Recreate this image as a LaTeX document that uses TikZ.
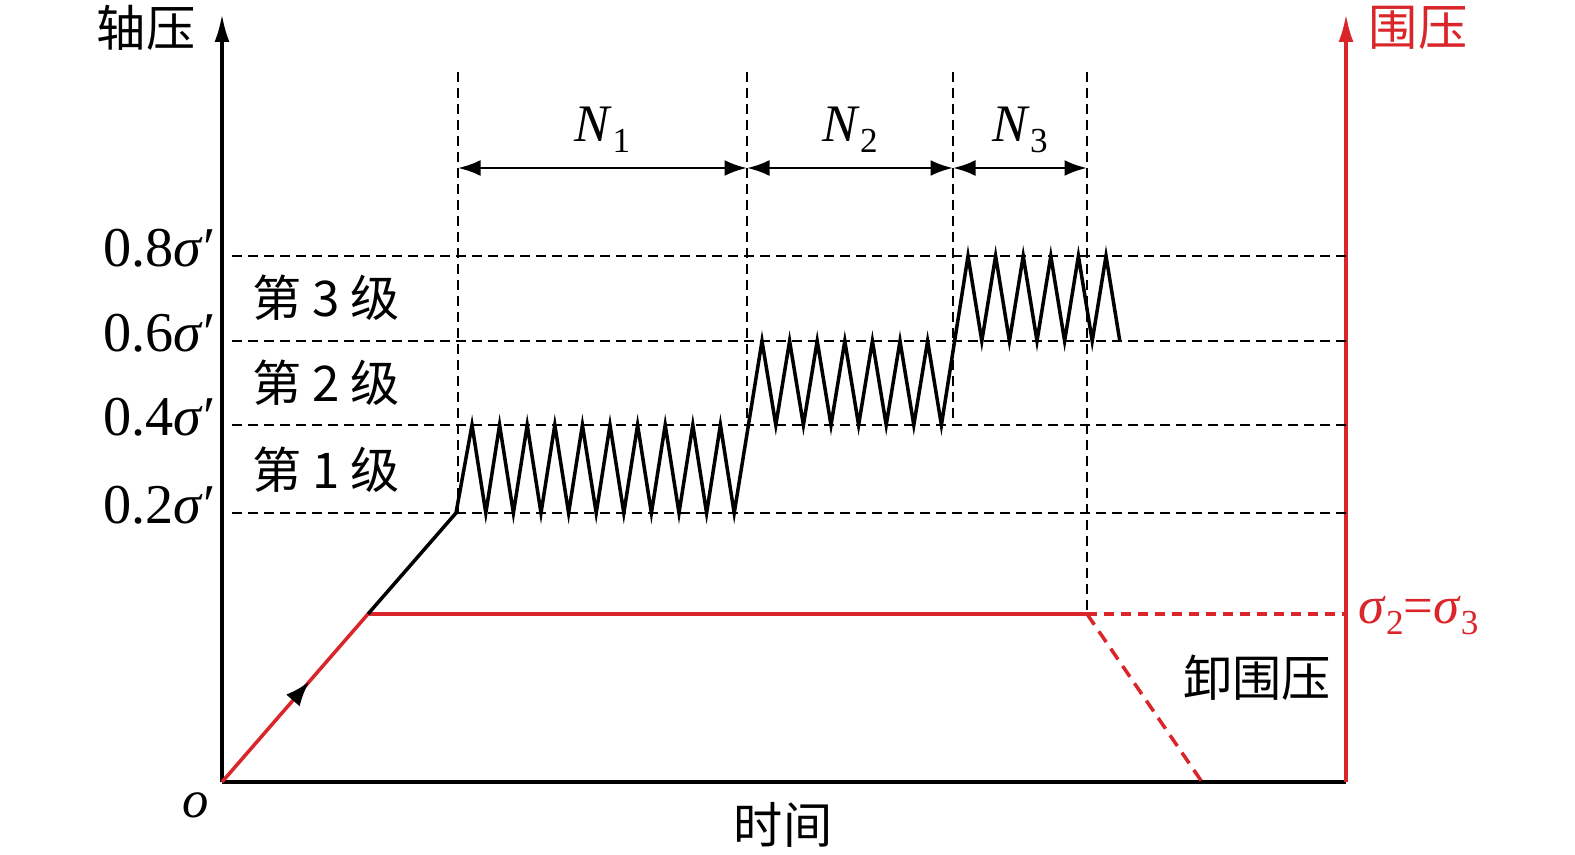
\documentclass[tikz,border=0pt]{standalone}
\usepackage{fontspec}
\setmainfont{Liberation Serif}
\newfontfamily\cjk{Noto Sans CJK SC}
\usetikzlibrary{arrows.meta, decorations.markings}
\definecolor{redline}{RGB}{218,37,42}
\newcommand{\lowidx}[1]{\raisebox{-0.45ex}{\fontsize{20}{20}\selectfont #1}}

\begin{document}
\begin{tikzpicture}[
    x=0.02cm, y=-0.02cm,
    every node/.style={font=\fontsize{30}{34}\selectfont, inner sep=0pt},
    lab/.style={font=\cjk\fontsize{28}{32}\selectfont},
    axis/.style={line width=2pt, -{Latex[length=5.6mm, width=3mm]}},
    guide/.style={dash pattern=on 2mm off 1.2mm, line width=0.9pt},
    load/.style={line width=2pt, line join=miter},
    dim/.style={{Latex[length=4.5mm, width=3.2mm]}-{Latex[length=4.5mm, width=3.2mm]}, line width=1.6pt},
    conf/.style={redline, line width=2pt}
]
    \useasboundingbox (0,0) rectangle (1575,855);

    % Axes
    \coordinate (O) at (222,782);
    \coordinate (ytop) at (222,14);
    \coordinate (xend) at (1346,782);
    \coordinate (rtop) at (1346,14);
    \draw[axis] (O) -- (ytop);
    \draw[line width=2pt] (O) -- (xend);
    \draw[axis, redline] (xend) -- (rtop);

    \node[lab] (axial) at (146,28) {轴压};
    \node[lab, text=redline] (conf) at (1418,28) {围压};
    \node[font=\fontsize{30}{34}\selectfont\itshape] (orig) at (196,805) {o};
    \node[lab] (time) at (783,825) {时间};

    % Stress levels
    \foreach \y/\v in {256/0.8, 341/0.6, 425/0.4, 513/0.2} {
        \draw[guide] (232,\y) -- (1346,\y);
        \node[anchor=east, font=\fontsize{32}{36}\selectfont] at (216,\y-8) {\v\textit{σ}′};
    }
    \node[lab] (lv3) at (326,298) {第 3 级};
    \node[lab] (lv2) at (326,383) {第 2 级};
    \node[lab] (lv1) at (326,470) {第 1 级};

    % Stage boundaries
    \draw[guide] (458,72) -- (458,513);
    \draw[guide] (747,72) -- (747,425);
    \draw[guide] (953,72) -- (953,425);
    \draw[guide] (1087,72) -- (1087,614);

    \coordinate (t1) at (458,168);
    \coordinate (t2) at (747,168);
    \coordinate (t3) at (953,168);
    \coordinate (t4) at (1087,168);
    \draw[dim] (t1) -- node[above=8pt] {\textit{N}\lowidx{1}} (t2);
    \draw[dim] (t2) -- node[above=8pt] {\textit{N}\lowidx{2}} (t3);
    \draw[dim] (t3) -- node[above=8pt] {\textit{N}\lowidx{3}} (t4);

    % Confining pressure
    \draw[conf, postaction={decorate}, decoration={markings,
        mark=at position 0.6 with {\arrow[black]{Latex[length=5mm, width=3.6mm]}}}]
        (O) -- (368,614);
    \draw[conf] (368,614) -- (1087,614);
    \draw[conf, dash pattern=on 2mm off 1.4mm] (1087,614) -- (1346,614);
    \draw[conf, dash pattern=on 2.6mm off 1.6mm] (1087,614) -- (1202,782);
    \node[anchor=west, text=redline] (eq) at (1358,616) {\textit{σ}\lowidx{2}=\textit{σ}\lowidx{3}};
    \node[lab] (unload) at (1257,678) {卸围压};

    % Cyclic axial load
    \draw[load] (368,614) -- (456,513)
        \foreach \k in {0,...,9} { -- ({472+27.6*\k},425) -- ({485.8+27.6*\k},513) }
        \foreach \k in {0,...,6} { -- ({762+27.6*\k},341) -- ({775.8+27.6*\k},425) }
        \foreach \k in {0,...,5} { -- ({968+27.6*\k},256) -- ({981.8+27.6*\k},341) };

\end{tikzpicture}
\end{document}
